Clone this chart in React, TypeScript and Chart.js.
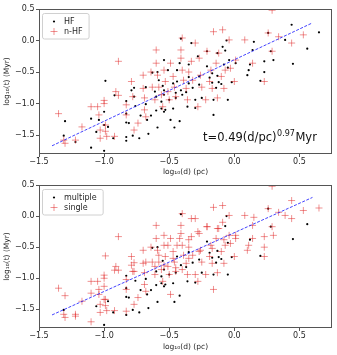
import React, { useEffect, useRef } from "react";
import { Chart, registerables } from "chart.js";

Chart.register(...registerables);

// ---- axes ----
const xTicks = [-1.5, -1.0, -0.5, 0.0, 0.5];
const yTicks = [-1.5, -1.0, -0.5, 0.0, 0.5];
const xRange = [-1.5, 0.75];
const yRange = [-1.8, 0.5];

// ---- data: log10(d) (pc), log10(t) (Myr) ----
// HF sources that are "single"
const hfSingle: [number, number][] = [
  [-1.30, -1.28], [-1.22, -1.61], [-1.10, -1.24], [-1.10, -1.70], [-1.00, -1.13],
  [-1.00, -1.34], [-0.99, -0.64], [-1.04, -1.26], [-0.92, -0.87], [-0.83, -1.53],
  [-0.79, -0.79], [-0.77, -0.75], [-0.77, -0.89], [-0.68, -0.74], [-0.61, -0.81],
  [-0.58, -0.63], [-0.54, -0.31], [-0.54, -0.79], [-0.51, -0.47], [-0.49, -1.26],
  [-0.47, -0.68], [-0.45, -0.83], [-0.44, -0.47], [-0.42, -0.36], [-0.40, -0.86],
  [-0.35, -0.38], [-0.35, -0.68], [-0.33, -0.04], [-0.30, -0.94], [-0.28, -0.25],
  [-0.27, -0.57], [-0.21, -0.17], [-0.17, -0.52], [-0.16, -1.18], [-0.13, -0.20],
  [-0.09, -0.10], [-0.08, -0.38], [-0.04, -0.31], [0.01, -0.36], [0.10, -0.55],
  [0.11, -0.47], [0.14, -0.15], [0.15, -0.02], [0.23, -0.50], [0.23, -0.33],
  [0.30, -0.31], [0.39, 0.01], [0.44, 0.25], [0.65, 0.13],
];

// HF sources that are "multiple"
const multiple: [number, number][] = [
  [-1.31, -1.51], [-1.06, -1.45], [-1.00, -1.75], [-0.97, -1.37], [-0.93, -1.55],
  [-0.83, -0.96], [-0.83, -1.16], [-0.83, -1.30], [-0.83, -1.59], [-0.81, -1.31],
  [-0.78, -1.51], [-0.76, -1.04], [-0.73, -1.55], [-0.72, -1.19], [-0.68, -1.01],
  [-0.67, -1.26], [-0.66, -1.48], [-0.64, -1.19], [-0.63, -0.51], [-0.60, -0.89],
  [-0.60, -1.11], [-0.59, -0.50], [-0.59, -1.38], [-0.56, -0.97], [-0.56, -1.08],
  [-0.55, -0.72], [-0.54, -0.86], [-0.54, -1.13], [-0.53, -1.10], [-0.50, -0.94],
  [-0.47, -1.08], [-0.46, -1.38], [-0.45, -0.91], [-0.44, -0.65], [-0.42, -1.28],
  [-0.41, -0.79], [-0.41, 0.03], [-0.37, -0.82], [-0.36, -1.05], [-0.35, -0.58],
  [-0.32, -0.75], [-0.30, -1.07], [-0.27, -0.70], [-0.25, -0.91], [-0.21, -0.41],
  [-0.19, -0.59], [-0.17, -0.67], [-0.16, -0.94], [-0.14, -0.75], [-0.13, -0.56],
  [-0.12, -0.66], [-0.10, -0.69], [-0.07, -0.16], [-0.06, 0.00], [-0.05, -0.94],
  [-0.05, -0.43], [-0.02, -0.66], [0.12, -0.38], [0.20, -0.64], [0.26, 0.12],
  [0.28, -0.17], [0.45, -0.37], [0.56, -0.13],
];

// n-HF sources (all "single")
const nhf: [number, number][] = [
  [-1.35, -1.16], [-1.31, -1.58], [-1.30, -1.63], [-1.22, -1.58], [-1.17, -1.37],
  [-1.10, -1.05], [-1.05, -1.05], [-1.04, -1.18], [-1.03, -1.42], [-1.03, -1.55],
  [-1.00, -0.95], [-1.00, -1.00], [-0.99, -1.34], [-0.99, -1.44], [-0.98, -1.52],
  [-0.92, -1.52], [-0.91, -0.81], [-0.89, -0.33], [-0.89, -0.87], [-0.83, -1.02],
  [-0.83, -1.18], [-0.79, -0.65], [-0.78, -0.89], [-0.77, -1.42], [-0.74, -1.31],
  [-0.70, -0.55], [-0.70, -0.76], [-0.69, -0.91], [-0.69, -1.10], [-0.68, -1.21],
  [-0.64, -0.50], [-0.63, -0.74], [-0.61, -0.94], [-0.60, -0.36], [-0.60, -0.15],
  [-0.59, -0.55], [-0.58, -0.74], [-0.56, -0.86], [-0.55, -1.05], [-0.54, -0.47],
  [-0.53, -0.65], [-0.51, -0.81], [-0.50, -0.94], [-0.49, -0.36], [-0.47, -0.57],
  [-0.46, -0.74], [-0.45, -0.89], [-0.41, -0.15], [-0.41, -0.28], [-0.40, 0.04],
  [-0.40, -0.47], [-0.39, -0.63], [-0.37, -0.76], [-0.36, -0.94], [-0.35, -0.50],
  [-0.33, -0.33], [-0.32, -0.63], [-0.30, -0.04], [-0.28, -1.05], [-0.27, -0.28],
  [-0.26, -0.55], [-0.25, -0.74], [-0.22, -0.94], [-0.21, -0.17], [-0.19, -0.65],
  [-0.18, -0.47], [-0.17, -0.76], [-0.16, 0.14], [-0.14, -0.36], [-0.13, -0.91],
  [-0.12, -0.20], [-0.10, -0.57], [-0.09, 0.17], [-0.08, -0.76], [-0.07, -0.47],
  [-0.04, 0.01], [-0.03, -0.44], [0.00, -0.65], [0.01, -0.31], [0.08, 0.01],
  [0.14, -0.36], [0.23, -0.65], [0.26, 0.12], [0.29, -0.17], [0.29, 0.48],
  [0.34, 0.06], [0.44, -0.04], [0.53, 0.09],
];

// fitted relation endpoints
const fitX = [-1.4, 0.6];
const fitTopY = [-1.67, 0.28];
const fitBottomY = [-1.59, 0.30];

// labels
const topLabels = ["HF", "n-HF"];
const bottomLabels = ["multiple", "single"];
const xTitle = "log\u2081\u2080(d) (pc)";
const yTitle = "log\u2081\u2080(t) (Myr)";
const annotation = { x: -0.24, y: -1.6, main: "t=0.49(d/pc)", sup: "0.97", tail: "Myr" };

const FONT = "'DejaVu Sans', sans-serif";
const TEXT = "#262626";
const SPINE = "#555555";
const RED = "rgba(225, 40, 40, 0.5)";

const fmt = (v: number | string) => {
  const n = Number(v);
  return (n < 0 ? "\u2212" : "") + Math.abs(n).toFixed(1);
};

const toPts = (arr: [number, number][]) => arr.map(([x, y]) => ({ x, y }));

const decor = {
  id: "decor",
  afterDatasetsDraw(chart: any, _args: any, opts: any) {
    const { ctx, chartArea: a } = chart;
    ctx.save();
    // frame (spines)
    ctx.strokeStyle = SPINE;
    ctx.lineWidth = 1;
    const l = Math.round(a.left) + 0.5;
    const t = Math.round(a.top) + 0.5;
    const r = Math.round(a.right) - 0.5;
    const b = Math.round(a.bottom) - 0.5;
    ctx.strokeRect(l, t, r - l, b - t);

    // legend
    const items: string[] = opts.labels;
    ctx.font = `8px ${FONT}`;
    const tw = Math.max(...items.map((s) => ctx.measureText(s).width));
    const x0 = a.left + 3.5;
    const y0 = a.top + 4.5;
    const w = 21.5 + tw + 6.5;
    const h = 25.5;
    ctx.beginPath();
    (ctx as any).roundRect(x0, y0, w, h, 2);
    ctx.fillStyle = "rgba(255,255,255,0.8)";
    ctx.fill();
    ctx.strokeStyle = "#d0d0d0";
    ctx.lineWidth = 1;
    ctx.stroke();
    items.forEach((label, i) => {
      const cy = y0 + 8 + i * 10;
      const mx = x0 + 11.5;
      if (i === 0) {
        ctx.beginPath();
        ctx.arc(mx, cy, 1.1, 0, Math.PI * 2);
        ctx.fillStyle = "#000";
        ctx.fill();
      } else {
        ctx.beginPath();
        ctx.moveTo(mx - 3.5, cy);
        ctx.lineTo(mx + 3.5, cy);
        ctx.moveTo(mx, cy - 3.5);
        ctx.lineTo(mx, cy + 3.5);
        ctx.strokeStyle = RED;
        ctx.lineWidth = 1;
        ctx.stroke();
      }
      ctx.fillStyle = TEXT;
      ctx.textBaseline = "middle";
      ctx.textAlign = "left";
      ctx.fillText(label, x0 + 21.5, cy + 0.5);
    });

    // annotation
    if (opts.annotation) {
      const an = opts.annotation;
      const px = chart.scales.x.getPixelForValue(an.x);
      const py = chart.scales.y.getPixelForValue(an.y);
      ctx.fillStyle = "#111";
      ctx.textBaseline = "alphabetic";
      ctx.font = `11.5px ${FONT}`;
      ctx.fillText(an.main, px, py);
      let cx = px + ctx.measureText(an.main).width;
      ctx.font = `8px ${FONT}`;
      ctx.fillText(an.sup, cx + 0.5, py - 5);
      cx += ctx.measureText(an.sup).width + 1;
      ctx.font = `11.5px ${FONT}`;
      ctx.fillText(an.tail, cx, py);
    }
    ctx.restore();
  },
};

type PanelProps = {
  black: [number, number][];
  red: [number, number][];
  fitY: number[];
  labels: string[];
  height: number;
  top: number;
  padTop: number;
  xAxisH: number;
  xTitlePad: number;
  showAnnotation: boolean;
};

function Panel(p: PanelProps) {
  const ref = useRef<HTMLCanvasElement>(null);
  useEffect(() => {
    const tickFont = { family: FONT, size: 8 };
    const titleFont = { family: FONT, size: 7.5, lineHeight: 1 };
    const chart = new Chart(ref.current as HTMLCanvasElement, {
      type: "scatter",
      data: {
        datasets: [
          {
            label: "fit",
            data: fitX.map((x, i) => ({ x, y: p.fitY[i] })),
            showLine: true,
            borderColor: "rgba(20, 20, 255, 0.8)",
            borderWidth: 1,
            borderDash: [3, 1.5],
            pointRadius: 0,
            order: 0,
          } as any,
          {
            label: p.labels[1],
            data: toPts(p.red),
            pointStyle: "cross",
            pointRadius: 3.5,
            borderColor: RED,
            backgroundColor: "transparent",
            borderWidth: 1,
            order: 1,
          } as any,
          {
            label: p.labels[0],
            data: toPts(p.black),
            pointStyle: "circle",
            pointRadius: 1.1,
            backgroundColor: "#000",
            borderWidth: 0,
            order: 2,
          } as any,
        ],
      },
      options: {
        responsive: false,
        animation: false,
        devicePixelRatio: 1,
        events: [],
        layout: { padding: { top: p.padTop, right: 3, left: 0, bottom: 0 } },
        plugins: {
          legend: { display: false },
          tooltip: { enabled: false },
          decor: { labels: p.labels, annotation: p.showAnnotation ? annotation : null },
        } as any,
        scales: {
          x: {
            type: "linear",
            min: xRange[0],
            max: xRange[1],
            afterBuildTicks: (s: any) => {
              s.ticks = xTicks.map((v) => ({ value: v }));
            },
            afterFit: (s: any) => {
              s.height = p.xAxisH;
            },
            ticks: { font: tickFont, color: TEXT, padding: 0, autoSkip: false, maxRotation: 0, callback: fmt },
            grid: { display: true, drawOnChartArea: false, drawTicks: true, tickLength: 3, color: SPINE },
            border: { display: false },
            title: { display: true, text: xTitle, font: titleFont, color: TEXT, padding: { top: 0, bottom: p.xTitlePad } },
          },
          y: {
            type: "linear",
            min: yRange[0],
            max: yRange[1],
            afterBuildTicks: (s: any) => {
              s.ticks = yTicks.map((v) => ({ value: v }));
            },
            afterFit: (s: any) => {
              s.width = 39;
            },
            ticks: { font: tickFont, color: TEXT, padding: 1.5, autoSkip: false, callback: fmt },
            grid: { display: true, drawOnChartArea: false, drawTicks: true, tickLength: 3, color: SPINE },
            border: { display: false },
            title: { display: true, text: yTitle, font: titleFont, color: TEXT, padding: { top: 3, bottom: 0 } },
          },
        },
      } as any,
      plugins: [decor],
    });
    return () => chart.destroy();
  }, []);
  return (
    <canvas
      ref={ref}
      width={337}
      height={p.height}
      style={{ position: "absolute", left: 0, top: p.top, width: 337, height: p.height }}
    />
  );
}

export default function App() {
  const hfAll = [...hfSingle, ...multiple];
  const singleAll = [...nhf, ...hfSingle];
  return (
    <div style={{ position: "absolute", left: 0, top: 0, width: 337, height: 355, background: "#fff" }}>
      <Panel
        black={hfAll}
        red={nhf}
        fitY={fitTopY}
        labels={topLabels}
        height={178}
        top={0}
        padTop={9}
        xAxisH={24}
        xTitlePad={2}
        showAnnotation={true}
      />
      <Panel
        black={multiple}
        red={singleAll}
        fitY={fitBottomY}
        labels={bottomLabels}
        height={178}
        top={177}
        padTop={8}
        xAxisH={27}
        xTitlePad={4}
        showAnnotation={false}
      />
    </div>
  );
}
